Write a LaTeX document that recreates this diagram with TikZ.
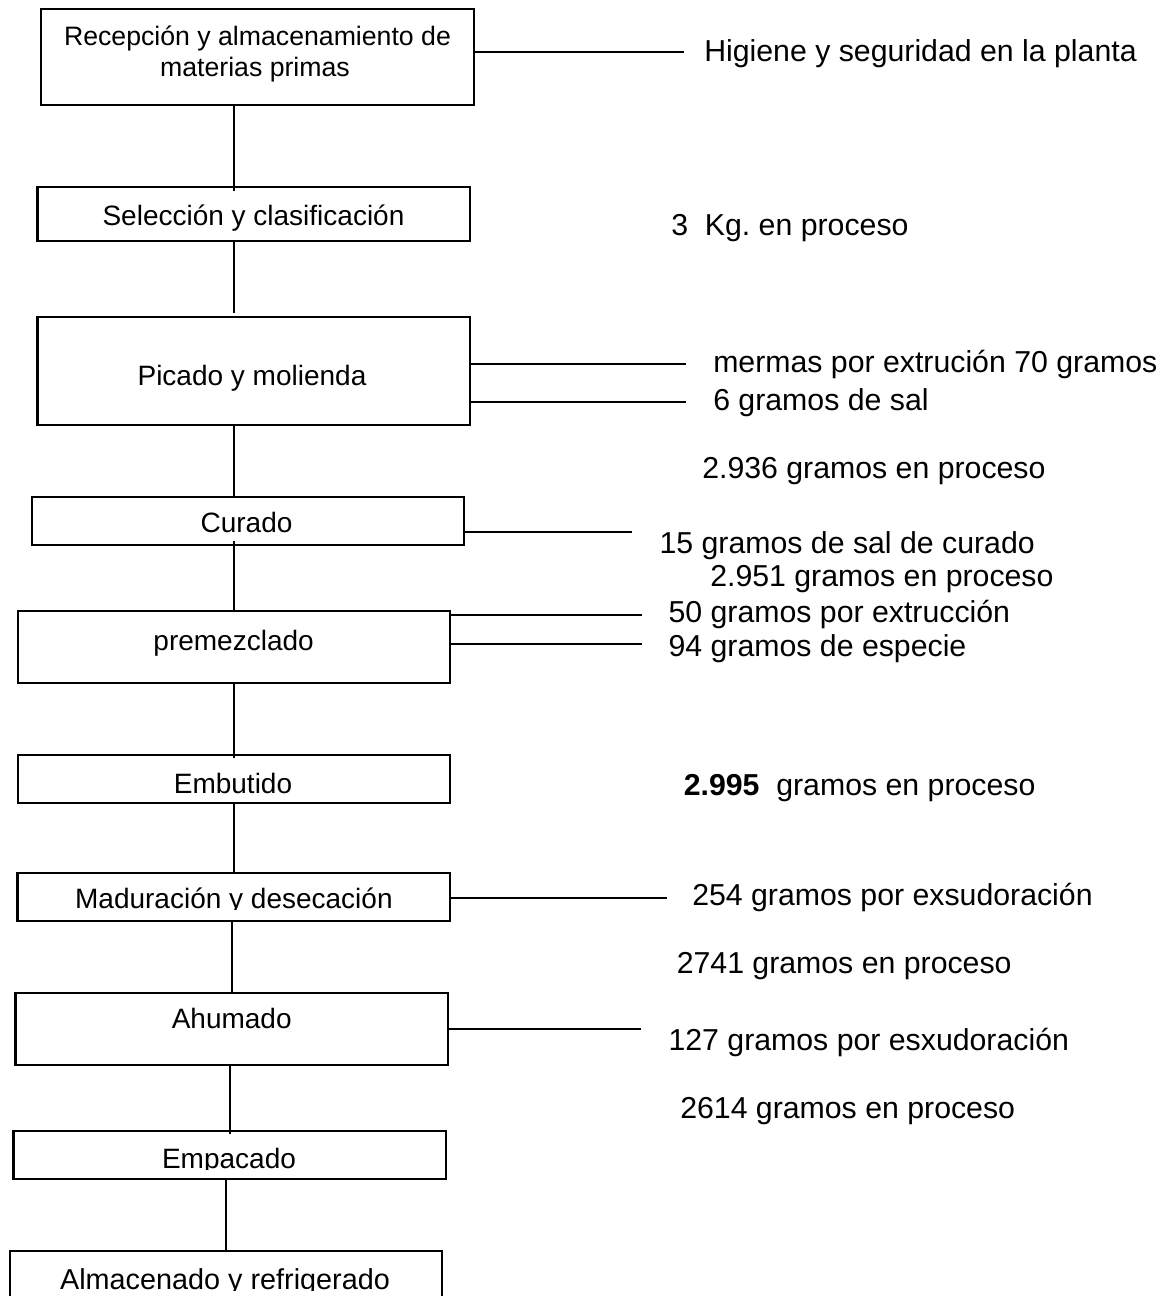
\documentclass[tikz,border=0pt]{standalone}
\usepackage{fontspec}
\setmainfont{Liberation Sans}
\usetikzlibrary{fit}
\frenchspacing

\begin{document}
\begin{tikzpicture}[x=0.75pt, y=-0.75pt,
    stepbox/.style={draw, line width=1.7pt, inner sep=0pt},
    wire/.style={line width=1.6pt},
    btxt/.style={inner sep=0pt, anchor=base, font=\fontsize{21}{25}\selectfont},
    bsmall/.style={inner sep=0pt, anchor=base, font=\fontsize{20}{24}\selectfont},
    side/.style={inner sep=0pt, anchor=base west, font=\fontsize{22.7}{27}\selectfont}]

  % page
  \path[use as bounding box, fill=white] (0,0) rectangle (1170,1296);

  % process boxes
  \node[stepbox, fit={(41,9) (474,105)}]       (b1)  {};
  \node[stepbox, fit={(37.5,187) (470,241)}]   (b2)  {};
  \node[stepbox, fit={(37.5,317) (470,425)}]   (b3)  {};
  \node[stepbox, fit={(32,497) (464,545)}]     (b4)  {};
  \node[stepbox, fit={(18,611) (450,683)}]     (b5)  {};
  \node[stepbox, fit={(18,755) (450,803)}]     (b6)  {};
  \node[stepbox, fit={(17.5,873) (450,920.7)}] (b7)  {};
  \node[stepbox, fit={(15.5,993) (448,1065)}]  (b8)  {};
  \node[stepbox, fit={(13.5,1131) (446,1179)}] (b9)  {};
  \node[stepbox, fit={(10,1251) (442,1320)}]   (b10) {};

  % box texts
  \node[bsmall] (t1a) at (257.5,45) {Recepción y almacenamiento de};
  \node[bsmall] (t1b) at (255,76.7) {materias primas};
  \node[btxt] (t2) at (253.5,225) {Selección y clasificación};
  \node[btxt] (t3) at (252,385) {Picado y molienda};
  \node[btxt] (t4) at (246.5,532) {Curado};
  \node[btxt] (t5) at (233.6,650) {premezclado};
  \node[btxt] (t6) at (233,793) {Embutido};
  \begin{scope}
    \clip (18,873) rectangle (450,909.5);
    \node[btxt] (t7) at (233.9,908.3) {Maduración y desecación};
  \end{scope}
  \node[btxt] (t8) at (231.7,1028.3) {Ahumado};
  \begin{scope}
    \clip (14,1131) rectangle (446,1169.5);
    \node[btxt] (t9) at (229,1168.3) {Empacado};
  \end{scope}
  \begin{scope}
    \clip (10,1251) rectangle (442,1290);
    \node[btxt, font=\fontsize{21.6}{26}\selectfont] (t10) at (225,1289) {Almacenado y refrigerado};
  \end{scope}

  % main flow
  \coordinate (va) at (234,0);
  \coordinate (vb) at (232.3,0);
  \coordinate (vc) at (230,0);
  \coordinate (vd) at (226,0);
  \draw[wire, shorten >=-3.75pt] (va |- b1.south) -- (va |- b2.north);
  \draw[wire, shorten >=2.25pt]  (va |- b2.south) -- (va |- b3.north);
  \draw[wire] (va |- b3.south) -- (va |- b4.north);
  \draw[wire, shorten <=-3.75pt, shorten >=-1.5pt] (va |- b4.south) -- (va |- b5.north);
  \draw[wire, shorten >=-3pt] (va |- b5.south) -- (va |- b6.north);
  \draw[wire, shorten >=-1.5pt] (va |- b6.south) -- (va |- b7.north);
  \draw[wire] (vb |- b7.south) -- (vb |- b8.north);
  \draw[wire, shorten <=-1.7pt, shorten >=-3pt] (vc |- b8.south) -- (vc |- b9.north);
  \draw[wire] (vd |- b9.south) -- (vd |- b10.north);

  % side branches
  \coordinate (h1)  at (684,52);
  \coordinate (h3a) at (686,364.3);
  \coordinate (h3b) at (686,401.7);
  \coordinate (h4)  at (632.3,532.3);
  \coordinate (h5a) at (642.3,615);
  \coordinate (h5b) at (642.3,644.3);
  \coordinate (h7)  at (666.7,898.3);
  \coordinate (h8)  at (640.7,1029.3);
  \draw[wire] (h1 -| b1.east) -- (h1);
  \draw[wire] (h3a -| b3.east) -- (h3a);
  \draw[wire] (h3b -| b3.east) -- (h3b);
  \draw[wire] (h4 -| b4.east) -- (h4);
  \draw[wire] (h5a -| b5.east) -- (h5a);
  \draw[wire] (h5b -| b5.east) -- (h5b);
  \draw[wire] (h7 -| b7.east) -- (h7);
  \draw[wire] (h8 -| b8.east) -- (h8);

  % side notes
  \node[side] (s1)  at (704,61)      {Higiene y seguridad en la planta};
  \node[side] (s2)  at (671,235)     {3~~Kg. en proceso};
  \node[side] (s3)  at (713,372.7)   {mermas por extrución 70 gramos};
  \node[side] (s4)  at (713,410)     {6 gramos de sal};
  \node[side] (s5)  at (702,478.3)   {2.936 gramos en proceso};
  \node[side] (s6)  at (659.3,553.3) {15 gramos de sal de curado};
  \node[side] (s7)  at (710,586.7)   {2.951 gramos en proceso};
  \node[side] (s8)  at (668.3,622.7) {50 gramos por extrucción};
  \node[side] (s9)  at (668.3,656.7) {94 gramos de especie};
  \node[side] (s10) at (683.5,795)   {\textbf{2.995}~~gramos en proceso};
  \node[side] (s11) at (692,905)     {254 gramos por exsudoración};
  \node[side] (s12) at (676.5,973.3) {2741 gramos en proceso};
  \node[side] (s13) at (668.3,1050)  {127 gramos por esxudoración};
  \node[side] (s14) at (680,1118.3)  {2614 gramos en proceso};
\end{tikzpicture}
\end{document}
